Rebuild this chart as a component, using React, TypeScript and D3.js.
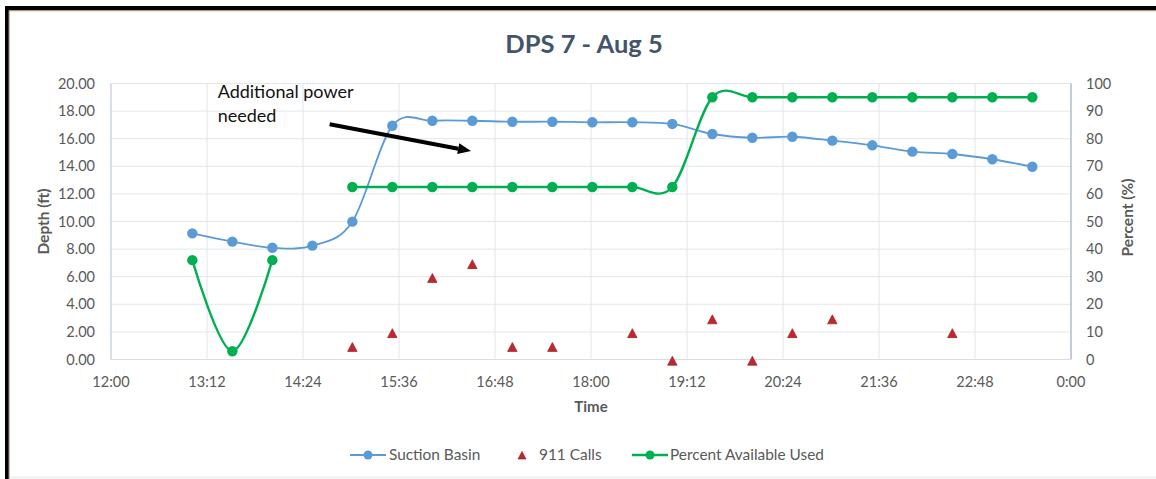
import React from "react";
import * as d3 from "d3";

const times = ["13:01","13:31","14:01","14:31","15:01","15:31","16:01","16:31","17:01","17:31","18:01","18:31","19:01","19:31","20:01","20:31","21:01","21:31","22:01","22:31","23:01","23:31"];
const suctionBasin = [9.14, 8.54, 8.1, 8.25, 9.99, 16.94, 17.3, 17.3, 17.23, 17.23, 17.19, 17.19, 17.07, 16.34, 16.07, 16.14, 15.86, 15.52, 15.06, 14.89, 14.51, 13.97];
const calls911: (number | null)[] = [null, null, null, null, 1, 2, 6, 7, 1, 1, null, 2, 0, 3, 0, 2, 3, null, null, 2, null, null];
const percentUsed: (number | null)[] = [36, 3, 36, null, 62.5, 62.5, 62.5, 62.5, 62.5, 62.5, 62.5, 62.5, 62.5, 95, 95, 95, 95, 95, 95, 95, 95, 95];

const xTickLabels = ["12:00","13:12","14:24","15:36","16:48","18:00","19:12","20:24","21:36","22:48","0:00"];
const leftTicks = [0, 2, 4, 6, 8, 10, 12, 14, 16, 18, 20];
const rightTicks = [0, 10, 20, 30, 40, 50, 60, 70, 80, 90, 100];

const W = 1156, H = 479;
const FONT = "Lato, 'Open Sans', sans-serif";
const BLUE = "#5B9BD5";
const GREEN = "#00B050";
const RED = "#C0262C";
const TXT = "#595959";

function toMin(t: string, isEnd = false) {
  const [h, m] = t.split(":").map(Number);
  let v = h * 60 + m;
  if (isEnd && v === 0) v = 1440;
  return v;
}

export default function App() {
  const left = 111, right = 1071, top = 83.5, bottom = 359.5;
  const x = d3.scaleLinear().domain([720, 1440]).range([left, right]);
  const yL = d3.scaleLinear().domain([0, 20]).range([bottom, top]);
  const yR = d3.scaleLinear().domain([0, 100]).range([bottom, top]);

  const tMin = times.map((t) => toMin(t));
  const xTicks = xTickLabels.map((t, i) => ({ label: t, v: toMin(t, i === xTickLabels.length - 1) }));

  const blueData = tMin.map((m, i) => ({ m, v: suctionBasin[i] as number | null }));
  const greenData = tMin.map((m, i) => ({ m, v: percentUsed[i] }));
  const callData = tMin.map((m, i) => ({ m, v: calls911[i] })).filter((d) => d.v != null);

  const lineL = d3.line<{ m: number; v: number | null }>()
    .defined((d) => d.v != null)
    .x((d) => x(d.m))
    .y((d) => yL(d.v as number))
    .curve(d3.curveCardinal.tension(0));
  const lineR = d3.line<{ m: number; v: number | null }>()
    .defined((d) => d.v != null)
    .x((d) => x(d.m))
    .y((d) => yR(d.v as number))
    .curve(d3.curveCardinal.tension(0));

  const tri = (cx: number, cy: number, s = 9.5) =>
    `M${cx},${cy - s * 0.45 + 1} L${cx + s / 2},${cy + s * 0.5 + 1} L${cx - s / 2},${cy + s * 0.5 + 1} Z`;

  // annotation (in data coords)
  const arrowStart = { m: toMin("14:44"), v: 17.05 };
  const arrowEnd = { m: toMin("16:30"), v: 15.1 };
  const ax1 = x(arrowStart.m), ay1 = yL(arrowStart.v);
  const ax2 = x(arrowEnd.m), ay2 = yL(arrowEnd.v);
  const ang = Math.atan2(ay2 - ay1, ax2 - ax1);
  const hl = 13, hw = 5.5;
  const bx = ax2 - hl * Math.cos(ang), by = ay2 - hl * Math.sin(ang);
  const head = `M${ax2},${ay2} L${bx + hw * Math.sin(ang)},${by - hw * Math.cos(ang)} L${bx - hw * Math.sin(ang)},${by + hw * Math.cos(ang)} Z`;
  const noteX = x(toMin("13:20"));

  const legY = 455;

  return (
    <svg width={W} height={H} style={{ position: "absolute", left: 0, top: 0, background: "#fff" }} fontFamily={FONT}>
      <rect x={0} y={0} width={W} height={H} fill="#fff" />
      {/* frame */}
      <rect x={5} y={6} width={W - 5} height={4.5} fill="#000" />
      <rect x={5} y={6} width={3.8} height={H - 6} fill="#000" />
      <line x1={9.3} y1={10.8} x2={W} y2={10.8} stroke="#c9a57f" strokeWidth={1} />
      <line x1={9.3} y1={10.8} x2={9.3} y2={H} stroke="#c9a57f" strokeWidth={1} />
      <line x1={10} y1={477.5} x2={W} y2={477.5} stroke="#eeeeee" strokeWidth={2} />

      {/* title */}
      <text x={584} y={53} textAnchor="middle" fontSize={25.5} fontWeight="bold" fill="#44546A">DPS 7 - Aug 5</text>

      {/* grid */}
      {leftTicks.map((t) => (
        <line key={"h" + t} x1={left} x2={right} y1={yL(t)} y2={yL(t)} stroke="#e3e6eb" strokeWidth={1} />
      ))}
      {xTicks.map((t) => (
        <line key={"v" + t.v} x1={x(t.v)} x2={x(t.v)} y1={top} y2={bottom} stroke="#dde3ec" strokeWidth={1} />
      ))}
      <line x1={left} x2={left} y1={top} y2={bottom} stroke="#cdd5e1" strokeWidth={1.2} />
      <line x1={right} x2={right} y1={top} y2={bottom} stroke="#b3bfd0" strokeWidth={1.5} />
      <line x1={left} x2={right} y1={bottom} y2={bottom} stroke="#d9dde3" strokeWidth={1.2} />

      {/* axis labels */}
      {leftTicks.map((t) => (
        <text key={"lt" + t} x={95} y={yL(t)} dy="0.35em" textAnchor="end" fontSize={14.5} fill={TXT}>{t.toFixed(2)}</text>
      ))}
      {rightTicks.map((t) => (
        <text key={"rt" + t} x={1086} y={yR(t)} dy="0.35em" textAnchor="start" fontSize={14.5} fill={TXT}>{t}</text>
      ))}
      {xTicks.map((t) => (
        <text key={"xt" + t.v} x={x(t.v)} y={387} textAnchor="middle" fontSize={14.5} fill={TXT}>{t.label}</text>
      ))}
      <text x={591} y={412} textAnchor="middle" fontSize={15} fontWeight="bold" fill={TXT}>Time</text>
      <text transform={`translate(49,${(top + bottom) / 2}) rotate(-90)`} textAnchor="middle" fontSize={15.5} fontWeight="bold" fill={TXT}>Depth (ft)</text>
      <text transform={`translate(1133,${(top + bottom) / 2 - 4}) rotate(-90)`} textAnchor="middle" fontSize={15.5} fontWeight="bold" fill={TXT}>Percent (%)</text>

      {/* series */}
      <path d={lineL(blueData) || ""} fill="none" stroke={BLUE} strokeWidth={1.8} />
      {blueData.map((d, i) => (
        <circle key={"b" + i} cx={x(d.m)} cy={yL(d.v as number)} r={5.2} fill={BLUE} />
      ))}
      <path d={lineR(greenData) || ""} fill="none" stroke={GREEN} strokeWidth={2.4} />
      {greenData.filter((d) => d.v != null).map((d, i) => (
        <circle key={"g" + i} cx={x(d.m)} cy={yR(d.v as number)} r={5.2} fill={GREEN} />
      ))}
      {callData.map((d, i) => (
        <path key={"c" + i} d={tri(x(d.m), yL(d.v as number))} fill={RED} stroke="#8b1a1a" strokeWidth={0.6} />
      ))}

      {/* annotation */}
      <text x={noteX} y={98} fontSize={18} fill="#111">Additional power</text>
      <text x={noteX} y={122} fontSize={18} fill="#111">needed</text>
      <line x1={ax1} y1={ay1} x2={bx} y2={by} stroke="#000" strokeWidth={4} />
      <path d={head} fill="#000" />

      {/* legend */}
      <line x1={350} x2={386} y1={legY} y2={legY} stroke={BLUE} strokeWidth={1.8} />
      <circle cx={368} cy={legY} r={4.5} fill={BLUE} />
      <text x={389} y={legY} dy="0.35em" fontSize={15.4} fill={TXT}>Suction Basin</text>
      <path d={tri(522, legY - 1, 8)} fill={RED} stroke="#8b1a1a" strokeWidth={0.6} />
      <text x={539} y={legY} dy="0.35em" fontSize={15.4} fill={TXT}>911 Calls</text>
      <line x1={632} x2={668} y1={legY} y2={legY} stroke={GREEN} strokeWidth={2.4} />
      <circle cx={650} cy={legY} r={4.5} fill={GREEN} />
      <text x={670} y={legY} dy="0.35em" fontSize={15.4} fill={TXT}>Percent Available Used</text>
    </svg>
  );
}
